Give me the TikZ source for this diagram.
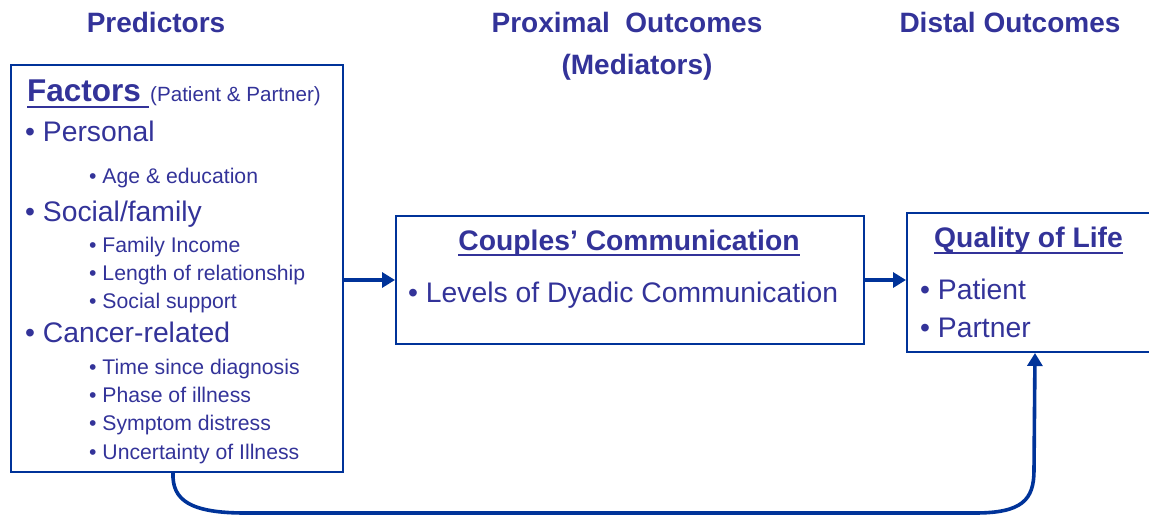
\documentclass[tikz,border=0pt]{standalone}
\usepackage{fontspec}
\setmainfont{Liberation Sans}
\usetikzlibrary{arrows.meta}
\definecolor{txt}{RGB}{51,51,153}
\definecolor{ln}{RGB}{0,51,153}
\begin{document}
\begin{tikzpicture}[x=1pt,y=-1pt,
  hdr/.style={font=\fontsize{28}{32}\selectfont\bfseries, text=txt, inner sep=0pt, anchor=base},
  ttl/.style={font=\fontsize{28.3}{32}\selectfont\bfseries, text=txt, inner sep=0pt, anchor=base},
  big/.style={font=\fontsize{28.3}{32}\selectfont, text=txt, inner sep=0pt, anchor=base west},
  small/.style={font=\fontsize{21.2}{24}\selectfont, text=txt, inner sep=0pt, anchor=base west},
  box/.style={draw=ln, line width=2pt, inner sep=0pt, anchor=north west},
  uline/.style={draw=txt, line width=1.6pt},
  arr/.style={draw=ln, line width=3.6pt, -{Triangle[length=13pt,width=15pt]}}
]
\useasboundingbox (0,0) rectangle (1149,516);
\clip (0,0) rectangle (1149,516);

% headers
\node[hdr] (h1) at (156,33) {Predictors};
\node[hdr] (h2) at (627,33) {Proximal\ \ Outcomes};
\node[hdr] (h3) at (637,75) {(Mediators)};
\node[hdr] (h4) at (1010,33) {Distal Outcomes};

% boxes
\node[box, minimum width=332pt, minimum height=407pt] (L) at (10,64) {};
\node[box, minimum width=468pt, minimum height=128pt] (M) at (395,215) {};
\node[box, minimum width=256pt, minimum height=139pt] (R) at (906,212) {};

% left box content
\node[font=\fontsize{31.5}{34}\selectfont\bfseries, text=txt, inner sep=0pt, anchor=base west] (F1) at (27,102) {Factors};
\node[font=\fontsize{20.6}{24}\selectfont, text=txt, inner sep=0pt, anchor=base west] (F2) at (150,102) {(Patient \& Partner)};
\draw[uline] ([yshift=-5pt]F1.base west) -- ([yshift=-5pt,xshift=8pt]F1.base east);

\node[big] (b1) at (25,142) {• Personal};
\node[small] (s1) at (89,183) {• Age \& education};
\node[big] (b2) at (25,221) {• Social/family};
\node[small] (s2) at (89,252) {• Family Income};
\node[small] (s3) at (89,280) {• Length of relationship};
\node[small] (s4) at (89,308) {• Social support};
\node[big] (b3) at (25,342) {• Cancer-related};
\node[small] (s5) at (89,374) {• Time since diagnosis};
\node[small] (s6) at (89,402) {• Phase of illness};
\node[small] (s7) at (89,430) {• Symptom distress};
\node[small] (s8) at (89,459) {• Uncertainty of Illness};

% middle box content
\node[ttl] (C1) at (629,250) {Couples’ Communication};
\draw[uline] ([yshift=-5pt]C1.base west) -- ([yshift=-5pt]C1.base east);
\node[big] (C2) at (408,302) {• Levels of Dyadic Communication};

% right box content
\node[ttl, anchor=base west] (Q1) at (934,247) {Quality of Life};
\draw[uline] ([yshift=-6pt]Q1.base west) -- ([yshift=-6pt]Q1.base east);
\node[big] (Q2) at (920,299) {• Patient};
\node[big] (Q3) at (920,337) {• Partner};

% connectors
\draw[arr] (L.east |- M.west) -- (M.west);
\draw[arr] (M.east) -- (R.west |- M.east);
\draw[arr] ([xshift=-4pt]L.south) .. controls (172,500) and (190,513) .. (245,513)
  -- (975,513) .. controls (1022,513) and (1034,500) .. (1034,470) -- (R.south);
\end{tikzpicture}
\end{document}
